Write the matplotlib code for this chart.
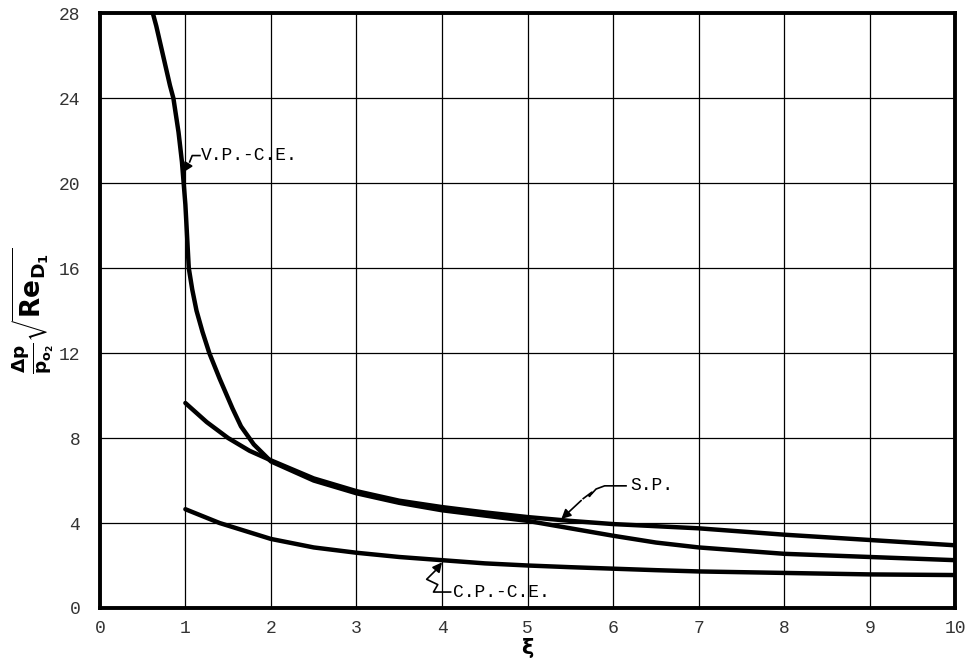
import matplotlib.pyplot as plt
import numpy as np

plt.rcParams['font.family'] = ['Liberation Mono', 'DejaVu Sans']

# V.P.-C.E. curve
vp_x = [0.62, 0.66, 0.70, 0.74, 0.78, 0.82, 0.86, 0.89, 0.92, 0.94, 0.96, 0.98, 1.00, 1.02, 1.04,
        1.08, 1.13, 1.20, 1.28, 1.40, 1.55, 1.65, 1.80, 2.0, 2.5, 3.0, 3.5, 4.0, 4.5, 5.0, 5.5,
        6.0, 6.5, 7.0, 8.0, 9.0, 10.0]
vp_y = [28, 27.4, 26.7, 26.0, 25.3, 24.6, 24, 23.2, 22.4, 21.7, 21, 20, 19, 17.5, 16,
        15, 14, 13, 12, 10.8, 9.4, 8.55, 7.7, 6.9, 6.0, 5.4, 4.95, 4.6, 4.35, 4.1, 3.75,
        3.4, 3.08, 2.85, 2.55, 2.4, 2.25]

# S.P. curve
sp_x = [1.0, 1.25, 1.5, 1.75, 2.0, 2.5, 3.0, 3.5, 4.0, 4.5, 5.0, 5.5, 6.0, 6.5, 7.0, 8.0, 9.0, 10.0]
sp_y = [9.65, 8.75, 8.0, 7.4, 6.95, 6.1, 5.5, 5.05, 4.75, 4.5, 4.28, 4.1, 3.95, 3.85, 3.75, 3.45, 3.2, 2.95]

# C.P.-C.E. curve
cp_x = [1.0, 1.4, 2.0, 2.5, 3.0, 3.5, 4.0, 4.5, 5.0, 5.5, 6.0, 6.5, 7.0, 8.0, 9.0, 10.0]
cp_y = [4.65, 4.0, 3.25, 2.85, 2.6, 2.4, 2.25, 2.1, 2.0, 1.92, 1.85, 1.78, 1.72, 1.65, 1.58, 1.55]

xticks = list(range(0, 11))
yticks = list(range(0, 29, 4))

fig = plt.figure(figsize=(9.69, 6.63), dpi=100)
ax = fig.add_axes([0.103, 0.083, 0.883, 0.897])

for v in xticks:
    ax.axvline(v, color='black', linewidth=0.9, zorder=1)
for v in yticks:
    ax.axhline(v, color='black', linewidth=0.9, zorder=1)

lw = 3.2
ax.plot(vp_x, vp_y, color='black', linewidth=lw, solid_capstyle='round', solid_joinstyle='round', zorder=3)
ax.plot(sp_x, sp_y, color='black', linewidth=lw, solid_capstyle='round', solid_joinstyle='round', zorder=3)
ax.plot(cp_x, cp_y, color='black', linewidth=lw, solid_capstyle='round', solid_joinstyle='round', zorder=3)

ax.set_xlim(0, 10)
ax.set_ylim(0, 28)
ax.set_xticks(xticks)
ax.set_yticks(yticks)
ax.tick_params(length=0, labelsize=13, labelcolor='#333333')
ax.tick_params(axis='x', pad=9)
ax.tick_params(axis='y', pad=14)
for s in ax.spines.values():
    s.set_linewidth(2.8)

ax.set_xlabel(r'$\mathbf{\xi}$', fontsize=15, labelpad=-1)
ax.set_ylabel(r'$\mathbf{\frac{\Delta p}{p_{o_2}}\sqrt{Re_{D_1}}}$', fontsize=19, labelpad=2)

txt = dict(fontsize=13, family=['Liberation Mono', 'DejaVu Sans'], va='center', zorder=5)
arrow = dict(arrowstyle='-|>', color='black', lw=1.2, mutation_scale=14)

# V.P.-C.E. label
ax.text(1.18, 21.3, 'V.P.-C.E.', **txt)
ax.plot([1.17, 1.08, 1.05], [21.3, 21.3, 21.0], color='black', lw=1.2)
ax.annotate('', xy=(0.96, 20.4), xytext=(1.05, 21.0), arrowprops=arrow)

# S.P. label
ax.text(6.2, 5.75, 'S.P.', **txt)
ax.plot([6.15, 5.9, 5.8, 5.72, 5.75, 5.65], [5.75, 5.75, 5.6, 5.25, 5.45, 5.15], color='black', lw=1.2)
ax.annotate('', xy=(5.37, 4.1), xytext=(5.65, 5.15), arrowprops=arrow)

# C.P.-C.E. label
ax.text(4.13, 0.75, 'C.P.-C.E.', **txt)
ax.plot([4.1, 3.9, 3.95, 3.82, 3.92], [0.75, 0.75, 1.1, 1.35, 1.75], color='black', lw=1.2)
ax.annotate('', xy=(4.02, 2.25), xytext=(3.92, 1.75), arrowprops=arrow)

plt.savefig('out.png', dpi=100)
